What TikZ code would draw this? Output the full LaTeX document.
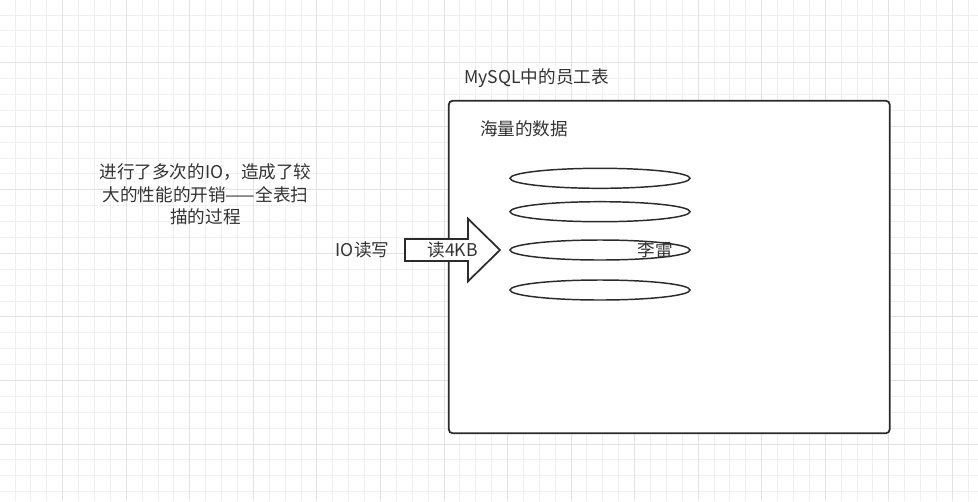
\documentclass[tikz,border=0pt]{standalone}
\usepackage{fontspec}
\setmainfont{Noto Sans CJK SC}
\usetikzlibrary{shapes.geometric}
\definecolor{textc}{HTML}{333333}
\definecolor{linec}{HTML}{2B2B2B}
\definecolor{gridminor}{HTML}{EFEFEF}
\definecolor{gridmajor}{HTML}{E2E2E2}
\begin{document}
\begin{tikzpicture}[x=0.75pt,y=-0.75pt,
  txt/.style={text=textc, font=\fontsize{13.2}{16.9}\selectfont, inner sep=0pt, align=center},
  tablebox/.style={draw=linec, fill=white, line width=1.3pt, rounded corners=3pt, inner sep=0pt,
                   minimum width=330.75pt, minimum height=249.45pt},
  rowell/.style={ellipse, draw=linec, line width=1.1pt, inner sep=0pt,
                 minimum width=135pt, minimum height=15pt},
  arrowshape/.style={draw=linec, fill=white, line width=1.3pt, line join=miter}]
\useasboundingbox (0,0) rectangle (978,501);
\fill[white] (0,0) rectangle (978,501);
% grid
\foreach \i in {0,...,62}{
  \draw[gridminor, line width=0.75pt] ({-0.8+\i*15.886},0) -- ({-0.8+\i*15.886},501);
}
\foreach \j in {0,...,32}{
  \draw[gridminor, line width=0.75pt] (0,{-0.8+\j*15.886}) -- (978,{-0.8+\j*15.886});
}
\foreach \i in {0,4,...,60}{
  \draw[gridmajor, line width=0.75pt] ({-0.8+\i*15.886},0) -- ({-0.8+\i*15.886},501);
}
\foreach \j in {0,4,...,32}{
  \draw[gridmajor, line width=0.75pt] (0,{-0.8+\j*15.886}) -- (978,{-0.8+\j*15.886});
}
% table box
\node[tablebox] (tbl) at (669.25,267) {};
\node[txt] (title) at (536.7,78.3) {MySQL中的员工表};
\node[txt] (mass) at (524,128.3) {海量的数据};
% rows
\node[rowell] (r1) at (600,178.3) {};
\node[rowell] (r2) at (600,211.7) {};
\node[rowell] (r3) at (600,250) {};
\node[rowell] (r4) at (600,290) {};
\node[txt] (lilei) at (655,249.5) {李雷};
% arrow
\draw[arrowshape] (405,239) -- (468,239) -- (468,218.7) -- (500,250) -- (468,281.3) -- (468,261) -- (405,261) -- cycle;
\node[txt] (read) at (452.7,250) {读4KB};
\node[txt] (io) at (362.5,250) {IO读写};
% note
\node[txt] (note) at (205.5,194.3) {进行了多次的IO，造成了较\\大的性能的开销——全表扫\\描的过程};
\end{tikzpicture}
\end{document}
